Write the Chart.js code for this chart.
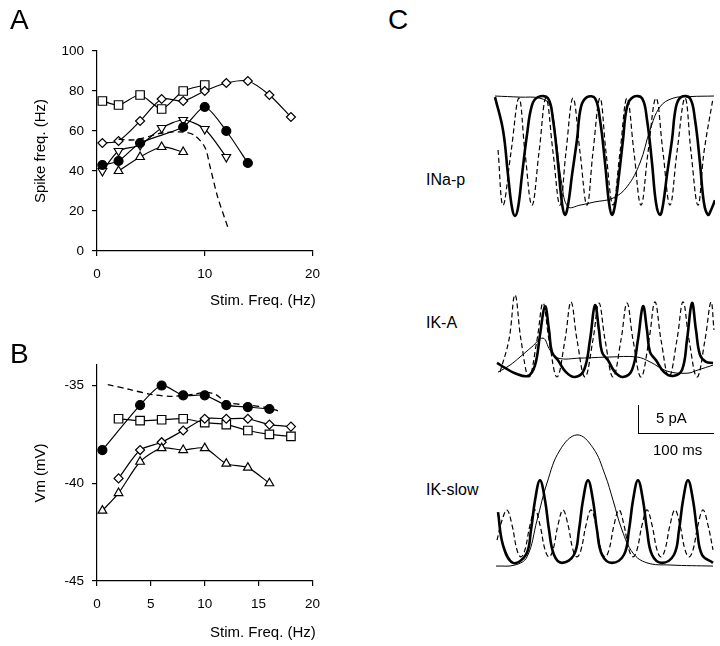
<!DOCTYPE html>
<html>
<head>
<meta charset="utf-8">
<script src="https://cdn.jsdelivr.net/npm/chart.js@4.4.1/dist/chart.umd.min.js"></script>
<style>
    body { margin: 0; background: #fff; width: 720px; height: 646px; position: relative; overflow: hidden;
           font-family: "Liberation Sans", Arial, sans-serif; }
    canvas { position: absolute; }
    .t { position: absolute; color: #000; white-space: nowrap; line-height: 1; }
</style>
</head>
<body>
<canvas id="chartA" width="330" height="300" style="left:0;top:0"></canvas>
<canvas id="chartB" width="330" height="300" style="left:0;top:330px"></canvas>
<canvas id="chartNa" width="222" height="135" style="left:493px;top:88px"></canvas>
<canvas id="chartKA" width="222" height="95" style="left:493px;top:288px"></canvas>
<canvas id="chartKs" width="222" height="148" style="left:493px;top:425px"></canvas>

<div class="t" style="left:10px;top:6px;font-size:28px">A</div>
<div class="t" style="left:10px;top:340px;font-size:28px">B</div>
<div class="t" style="left:388px;top:6px;font-size:28px">C</div>
<div class="t" style="left:210px;top:292px;font-size:15px">Stim. Freq. (Hz)</div>
<div class="t" style="left:210px;top:624px;font-size:15px">Stim. Freq. (Hz)</div>
<div class="t" style="left:426px;top:172px;font-size:16px">INa-p</div>
<div class="t" style="left:426px;top:315px;font-size:16px">IK-A</div>
<div class="t" style="left:426px;top:482px;font-size:16px">IK-slow</div>
<div class="t" style="left:656px;top:410px;font-size:15px">5 pA</div>
<div class="t" style="left:653px;top:442px;font-size:15px">100 ms</div>
<div style="position:absolute;left:638px;top:405px;width:1px;height:29px;background:#000"></div>
<div style="position:absolute;left:638px;top:433px;width:76px;height:1px;background:#000"></div>

<script>
// Panel A: spike frequency vs stimulation frequency
const aSquareX = [0.5, 2, 4, 6, 8, 10];
const aSquareY = [75, 73, 78, 71, 80, 83];
const aDiamondX = [0.5, 2, 4, 6, 8, 10, 12, 14, 16, 18];
const aDiamondY = [54, 55, 65, 76, 75, 80, 84, 85, 78, 67];
const aCircleX = [0.5, 2, 4, 8, 10, 12, 14];
const aCircleY = [43, 45, 54, 62, 72, 60, 44];
const aDownX = [0.5, 2, 4, 6, 8, 10, 12];
const aDownY = [40, 50, 53, 61.5, 65.5, 61, 47];
const aUpX = [2, 4, 6, 8];
const aUpY = [40, 47, 52, 49.5];
const aDashX = [2, 3, 4, 6, 8, 9, 10, 10.5, 11.2, 12.2];
const aDashY = [56, 55.5, 56, 59, 59.5, 58, 52, 42, 27, 11];

// Panel B: membrane potential vs stimulation frequency
const bCircleX = [0.5, 4, 6, 8, 10, 12, 14, 16];
const bCircleY = [-38.3, -36, -35, -35.5, -35.5, -36, -36.1, -36.2];
const bSquareX = [2, 4, 6, 8, 10, 12, 14, 16, 18];
const bSquareY = [-36.7, -36.8, -36.75, -36.7, -36.9, -37, -37.3, -37.5, -37.6];
const bDiamondX = [2, 4, 6, 8, 10, 12, 14, 16, 18];
const bDiamondY = [-39.75, -38.3, -37.9, -37.3, -36.7, -36.7, -36.7, -37.0, -37.1];
const bTriX = [0.5, 2, 4, 6, 8, 10, 12, 14, 16];
const bTriY = [-41.4, -40.5, -38.9, -38.2, -38.3, -38.2, -39, -39.2, -40];
const bDashX = [1, 3, 5, 7, 9, 10, 11, 12, 14, 16, 16.8];
const bDashY = [-34.95, -35.2, -35.45, -35.55, -35.45, -35.35, -35.45, -35.85, -36.0, -36.15, -36.3];

const aTicksY = [0, 20, 40, 60, 80, 100];
const bTicksY = [-45, -40, -35];

// Panel C traces: [time ms, current pA]
const naThick = [[2.7,22.2],[13.5,16.1],[20.3,7.8],[25.7,1.7],[29.7,0.2],[33.8,1.7],[39.2,7.8],[45.9,15.2],[52.7,20.7],[60.8,22.2],
    [74.3,22.0],[81.1,18.0],[87.8,10.0],[93.2,2.6],[97.3,0.4],[101.4,2.2],[106.8,7.8],[113.5,14.3],[118.9,20.4],[127.0,22.2],
    [137.8,22.0],[144.6,18.0],[151.4,10.0],[156.8,2.6],[160.8,0.4],[164.9,2.2],[170.3,7.8],[175.7,14.3],[181.1,20.4],[189.2,22.2],
    [201.4,22.0],[208.1,18.0],[214.9,10.0],[220.3,2.6],[225.7,0.4],[229.7,2.2],[235.1,7.8],[241.9,14.3],[247.3,20.4],[254.1,22.2],
    [266.2,22.0],[273.0,18.0],[279.7,10.0],[285.1,2.6],[290.5,0.4],[294.6,1.3],[300,3.1]];
const naThin = [[2.7,22.4],[36.5,22.2],[63.5,22.0],[77,20.7],[85.1,14.3],[93.2,5.9],[101.4,1.9],[117.6,2.2],[137.8,2.8],
    [162.2,3.5],[181.1,5.6],[198.6,10.0],[212.2,16.1],[225.7,20.4],[243.2,22.0],[266.2,22.3],[298.6,22.4]];
const naDash = [[6.8,12.4],[13.5,2.2],[24.3,12.0],[35.1,22.0],[43.2,12.0],[52.7,2.2],[62.2,12.0],[71.6,22.0],[81.1,12.0],
    [90.5,2.2],[98.6,12.0],[108.1,22.0],[117.6,12.0],[127.0,2.2],[135.1,12.0],[144.6,22.0],[152.7,12.0],[162.2,2.2],
    [171.6,12.0],[181.1,22.0],[190.5,12.0],[200.0,2.2],[209.5,12.0],[220.3,22.0],[229.7,12.0],[239.2,2.2],[248.6,12.0],
    [259.5,22.0],[267.6,12.0],[277.0,2.2],[285.1,12.0],[297.3,22.0]];

const kaThick = [[5.4,2.6],[16.2,1.7],[29.7,0.7],[47.3,0.2],[56.8,2.2],[63.5,7.8],[70.3,13.1],[75.7,8.7],[79.7,4.6],[87.8,3.1],
    [98.6,0.9],[110.8,0],[123.0,1.3],[131.1,6.9],[137.8,13.3],[143.2,8.7],[147.3,4.6],[155.4,3.1],[164.9,0.9],[175.7,0],
    [187.8,1.3],[195.9,6.9],[202.7,13.1],[208.1,8.7],[212.2,4.6],[220.3,3.1],[231.1,0.9],[243.2,0.2],[255.4,1.3],[262.2,6.9],
    [268.9,13.7],[274.3,8.7],[279.7,4.1],[287.8,2.8],[297.3,2.6]];
const kaThin = [[6.8,0.9],[23,2.2],[36.5,3.7],[52.7,5.6],[67.6,7.2],[77,5.0],[87.8,3.5],[117.6,3.5],[158.1,3.7],[194.6,3.7],
    [212.2,2.8],[235.1,1.1],[262.2,0.7],[277,1.3],[297.3,2.2]];
const kaDash = [[9.5,0.9],[21.6,6.9],[29.7,15.2],[37.8,6.9],[48.6,0],[59.5,6.9],[67.6,13.7],[75.7,6.9],[86.5,0],[97.3,6.9],
    [105.4,13.9],[113.5,6.9],[124.3,0],[135.1,6.9],[143.2,13.7],[151.4,6.9],[162.2,0],[173.0,6.9],[181.1,13.7],[189.2,6.9],
    [200,0],[210.8,6.9],[218.9,13.9],[227,6.9],[237.8,0],[248.6,6.9],[256.8,13.9],[264.9,6.9],[275.7,0],[286.5,6.9],
    [294.6,13.9],[298.6,8.7]];

const ksThick = [[6.8,9.8],[13.5,3.7],[27,0.4],[44.6,1.9],[51.4,6.5],[56.8,12.0],[63.5,15.7],[70.3,12.0],[75.7,6.5],[82.4,1.9],
    [93.2,0.4],[109.5,1.9],[116.2,6.5],[121.6,12.0],[128.4,15.7],[135.1,12.0],[140.5,6.5],[147.3,1.9],[160.8,0.4],[177,1.9],
    [183.8,6.5],[189.2,12.0],[195.9,15.7],[202.7,12.0],[208.1,6.5],[214.9,1.9],[228.4,0.4],[244.6,1.9],[251.4,6.5],[256.8,12.0],
    [263.5,15.7],[270.3,12.0],[275.7,6.5],[282.4,1.9],[297.3,0.4]];
const ksThin = [[4.1,-0.2],[29.7,0],[45.9,1.5],[59.5,8.3],[73,15.2],[90.5,21.3],[113.5,24.1],[135.1,21.7],[151.4,16.7],
    [162.2,12.0],[174.3,6.5],[189.2,2.2],[208.1,0.4],[239.2,0],[297.3,-0.2]];
const ksDash = [[5.4,4.6],[12.2,8.3],[18.9,10.2],[25.7,7.4],[32.4,2.8],[37.8,1.5],[43.2,2.8],[50,7.4],[56.8,10.2],[63.5,7.4],
    [70.3,2.8],[75.7,1.5],[81.1,2.8],[87.8,7.4],[94.6,10.2],[101.4,7.4],[108.1,2.8],[113.5,1.5],[118.9,2.8],[125.7,7.4],
    [132.4,10.2],[139.2,7.4],[145.9,2.8],[151.4,1.5],[156.8,2.8],[163.5,7.4],[170.3,10.2],[177,7.4],[183.8,2.8],[189.2,1.5],
    [194.6,2.8],[201.4,7.4],[208.1,10.2],[214.9,7.4],[221.6,2.8],[227,1.5],[232.4,2.8],[239.2,7.4],[245.9,10.2],[252.7,7.4],
    [259.5,2.8],[264.9,1.5],[270.3,2.8],[277,7.4],[283.8,10.2],[290.5,7.4],[297.3,2.8]];

const tickFont = { family: 'Liberation Sans, Arial, sans-serif', size: 13.5 };

function series(xs, ys, style, fill, extra) {
    return Object.assign({
        data: xs.map((x, i) => ({ x: x, y: ys[i] })),
        showLine: true,
        borderColor: '#000',
        borderWidth: 1.2,
        tension: 0.25,
        pointStyle: style,
        pointRadius: 4.5,
        pointBackgroundColor: fill,
        pointBorderColor: '#000',
        pointBorderWidth: 1.2
    }, extra || {});
}

function dashed(xs, ys) {
    return {
        data: xs.map((x, i) => ({ x: x, y: ys[i] })),
        showLine: true,
        borderColor: '#000',
        borderWidth: 1.3,
        borderDash: [6, 4],
        tension: 0.3,
        pointRadius: 0
    };
}

function axes(xStep, yMin, yMax, yTicks, yTitle) {
    const grid = { drawOnChartArea: false, drawTicks: true, tickLength: 5, color: '#000', lineWidth: 1.2 };
    return {
        x: {
            type: 'linear', min: 0, max: 20,
            ticks: { stepSize: xStep, color: '#000', font: tickFont, padding: 10 },
            grid: grid,
            border: { color: '#000', width: 1.2 },
            afterFit: (s) => { s.height = 49; }
        },
        y: {
            type: 'linear', min: yMin, max: yMax,
            afterBuildTicks: (s) => { s.ticks = yTicks.map(v => ({ value: v })); },
            ticks: { color: '#000', font: tickFont, padding: 8 },
            grid: grid,
            border: { color: '#000', width: 1.2 },
            title: {
                display: true, text: yTitle, color: '#000',
                font: { family: 'Liberation Sans, Arial, sans-serif', size: 15 },
                padding: { top: 32, bottom: 0 }
            },
            afterFit: (s) => { s.width = 97; }
        }
    };
}

const baseOptions = {
    responsive: false,
    animation: false,
    plugins: { legend: { display: false }, tooltip: { enabled: false } }
};

new Chart(document.getElementById('chartA'), {
    type: 'scatter',
    data: {
        datasets: [
            dashed(aDashX, aDashY),
            series(aUpX, aUpY, 'triangle', '#fff', { pointRadius: 5 }),
            series(aCircleX, aCircleY, 'circle', '#000', { pointRadius: 4.5 }),
            series(aDownX, aDownY, 'triangle', '#fff', { pointRadius: 5, pointRotation: 180 }),
            series(aDiamondX, aDiamondY, 'rectRot', '#fff', { pointRadius: 4.5 }),
            series(aSquareX, aSquareY, 'rect', '#fff', { pointRadius: 6 })
        ]
    },
    options: Object.assign({}, baseOptions, {
        layout: { padding: { top: 51, right: 17, left: 0, bottom: 0 } },
        scales: axes(10, 0, 100, aTicksY, 'Spike freq. (Hz)')
    })
});

new Chart(document.getElementById('chartB'), {
    type: 'scatter',
    data: {
        datasets: [
            dashed(bDashX, bDashY),
            series(bTriX, bTriY, 'triangle', '#fff', { pointRadius: 5 }),
            series(bDiamondX, bDiamondY, 'rectRot', '#fff', { pointRadius: 4.5 }),
            series(bSquareX, bSquareY, 'rect', '#fff', { pointRadius: 6 }),
            series(bCircleX, bCircleY, 'circle', '#000', { pointRadius: 4.5 })
        ]
    },
    options: Object.assign({}, baseOptions, {
        layout: { padding: { top: 35, right: 17, left: 0, bottom: 0 } },
        scales: axes(5, -45, -33.95, bTicksY, 'Vm (mV)')
    })
});

function trace(points, kind) {
    const ds = {
        data: points.map(p => ({ x: p[0], y: p[1] })),
        borderColor: '#000',
        pointRadius: 0,
        tension: 0.4,
        clip: false
    };
    if (kind === 'thick') ds.borderWidth = 2.6;
    if (kind === 'thin') ds.borderWidth = 1;
    if (kind === 'dash') { ds.borderWidth = 1.2; ds.borderDash = [5, 3]; }
    return ds;
}

function traceChart(id, thick, thin, dash, yMin, yMax) {
    new Chart(document.getElementById(id), {
        type: 'line',
        data: { datasets: [trace(dash, 'dash'), trace(thin, 'thin'), trace(thick, 'thick')] },
        options: Object.assign({}, baseOptions, {
            layout: { padding: 0 },
            scales: {
                x: { type: 'linear', display: false, min: 0, max: 300 },
                y: { type: 'linear', display: false, min: yMin, max: yMax }
            }
        })
    });
}

traceChart('chartNa', naThick, naThin, naDash, -1.11, 23.89);
traceChart('chartKA', kaThick, kaThin, kaDash, -1.11, 16.48);
traceChart('chartKs', ksThick, ksThin, ksDash, -1.48, 25.93);
</script>
</body>
</html>
